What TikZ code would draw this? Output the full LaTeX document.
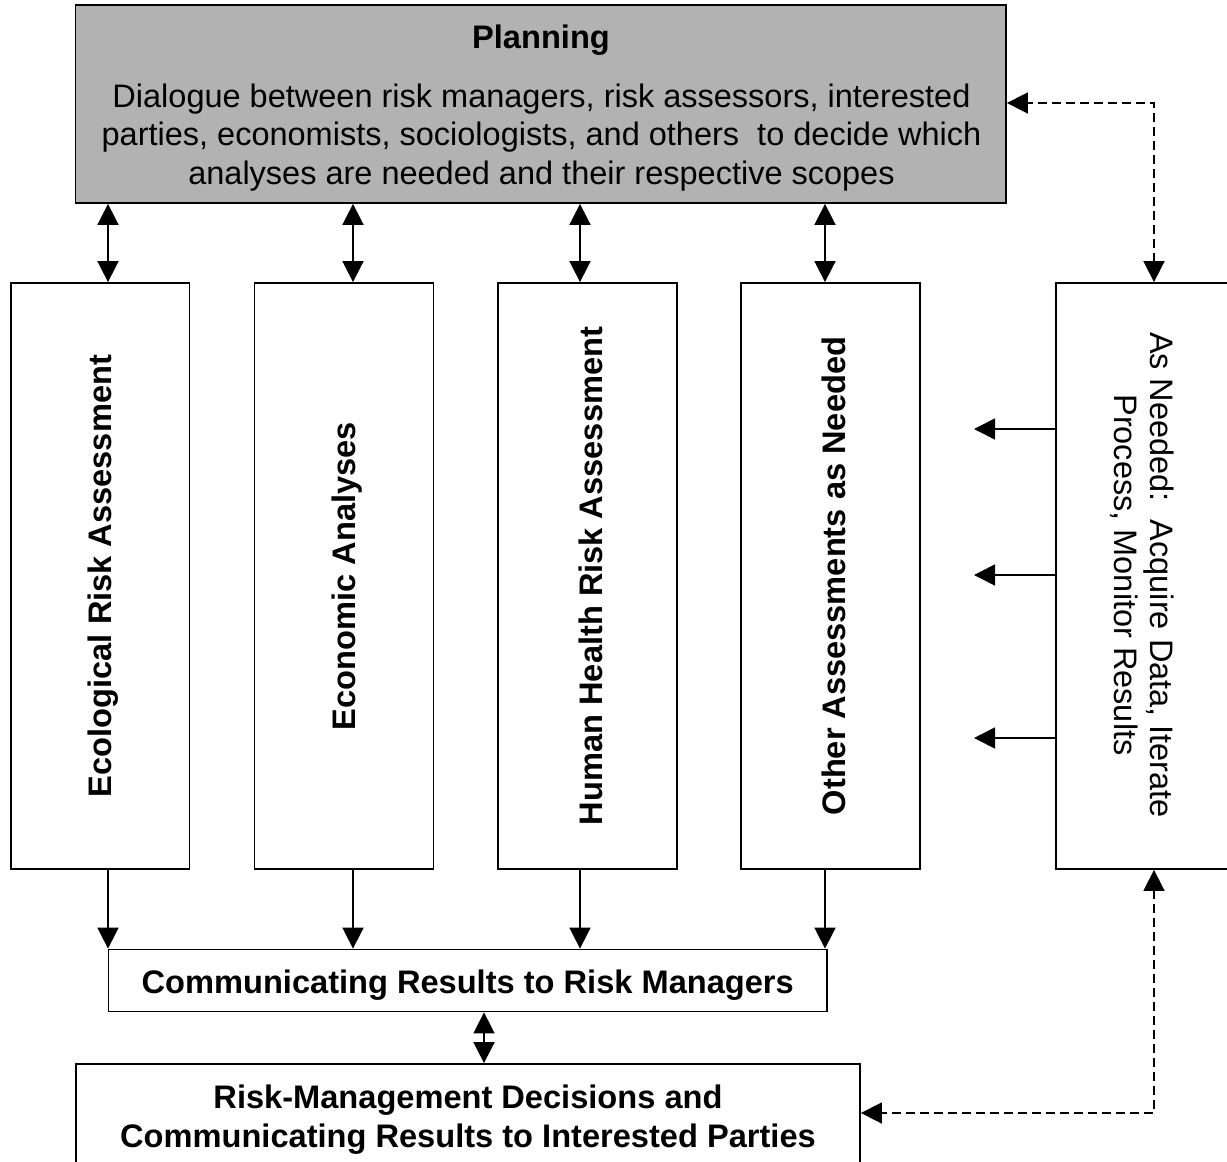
\documentclass[tikz,border=0pt]{standalone}
\usepackage{fontspec}
\setmainfont{Liberation Sans}
\usetikzlibrary{arrows.meta}
\begin{document}
\begin{tikzpicture}[x=1pt,y=-1pt,
  box/.style={draw, line width=1.8pt, inner sep=0pt, fill=white},
  planbox/.style={box, fill=black!30},
  txt/.style={inner sep=0pt, align=center, font=\fontsize{32.5}{38.5}\selectfont},
  btxt/.style={txt, font=\fontsize{32.6}{39}\selectfont\bfseries},
  conn/.style={line width=1.7pt},
  onearrow/.style={conn, -{Triangle[length=21pt,width=21pt]}},
  biarrow/.style={conn, {Triangle[length=21pt,width=21pt]}-{Triangle[length=21pt,width=21pt]}},
  dasharrow/.style={biarrow, dash pattern=on 9pt off 5pt}]
\useasboundingbox (0,0) rectangle (1227,1162);
\clip (0,0) rectangle (1227,1162);

% boxes
\node[planbox, minimum width=930.5pt, minimum height=198pt] (plan) at (540.75,104) {};
\node[box, minimum width=178.5pt, minimum height=586pt] (eco) at (100.25,576) {};
\node[box, minimum width=179pt, minimum height=586pt] (econ) at (344,576) {};
\node[box, minimum width=179pt, minimum height=586pt] (hh) at (587.5,576) {};
\node[box, minimum width=179pt, minimum height=586pt] (oth) at (830.5,576) {};
\node[box, minimum width=172pt, minimum height=586pt] (need) at (1142,576) {};
\node[box, minimum width=718.5pt, minimum height=62pt] (comm) at (467.75,980.5) {};
\node[box, minimum width=784pt, minimum height=106pt] (dec) at (468,1117) {};

% texts
\node[btxt] (planT) at (541,40.5) {Planning};
\node[txt] (planB) at (541.5,137.5) {Dialogue between risk managers, risk assessors, interested\\
  parties, economists, sociologists, and others\ \ to decide which\\
  analyses are needed and their respective scopes};
\node[btxt, rotate=90] (ecoT) at ([xshift=3pt]eco.center) {Ecological Risk Assessment};
\node[btxt, rotate=90] (econT) at ([xshift=3pt]econ.center) {Economic Analyses};
\node[btxt, rotate=90] (hhT) at ([xshift=3pt]hh.center) {Human Health Risk Assessment};
\node[btxt, rotate=90] (othT) at ([xshift=3pt]oth.center) {Other Assessments as Needed};
\node[txt, rotate=-90, font=\fontsize{32.5}{36.5}\selectfont] (needT) at (1142,575)
  {As Needed:\ \ Acquire Data, Iterate\\Process, Monitor Results};
\node[btxt] (commT) at ([yshift=-4.5pt]comm.center) {Communicating Results to Risk Managers};
\node[btxt] (decT) at (468,1119.5) {Risk-Management Decisions and\\Communicating Results to Interested Parties};

% connector positions
\coordinate (x1) at (108,0);
\coordinate (x2) at (353,0);
\coordinate (x3) at (580,0);
\coordinate (x4) at (825,0);
\coordinate (xm) at (484,0);
\coordinate (xd) at (1154,0);
\coordinate (yt) at (0,103);
\coordinate (yb) at (0,1113);
\coordinate (s1) at (974,429);
\coordinate (s2) at (974,575);
\coordinate (s3) at (974,738);

% planning <-> assessments
\draw[biarrow] (plan.south -| x1) -- (eco.north -| x1);
\draw[biarrow] (plan.south -| x2) -- (econ.north -| x2);
\draw[biarrow] (plan.south -| x3) -- (hh.north -| x3);
\draw[biarrow] (plan.south -| x4) -- (oth.north -| x4);

% assessments -> communicating
\draw[onearrow] (eco.south -| x1) -- (comm.north -| x1);
\draw[onearrow] (econ.south -| x2) -- (comm.north -| x2);
\draw[onearrow] (hh.south -| x3) -- (comm.north -| x3);
\draw[onearrow] (oth.south -| x4) -- (comm.north -| x4);

% communicating <-> decisions
\draw[biarrow] (comm.south -| xm) -- (dec.north -| xm);

% as-needed box feedback
\draw[onearrow] (need.west |- s1) -- (s1);
\draw[onearrow] (need.west |- s2) -- (s2);
\draw[onearrow] (need.west |- s3) -- (s3);

% dashed loops
\draw[dasharrow] (need.north -| xd) |- (plan.east |- yt);
\draw[dasharrow] (need.south -| xd) |- (dec.east |- yb);
\end{tikzpicture}
\end{document}
